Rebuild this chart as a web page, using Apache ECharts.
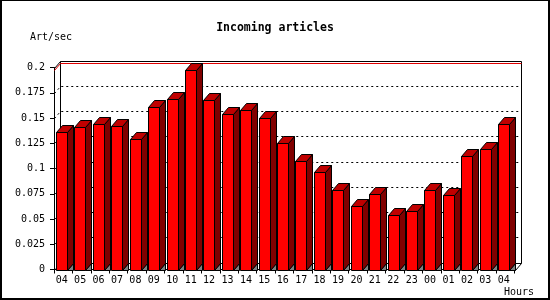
<!DOCTYPE html>
<html>
<head>
<meta charset="utf-8">
<script src="https://cdn.jsdelivr.net/npm/echarts@6/dist/echarts.min.js"></script>
<style>
html,body{margin:0;padding:0;background:#fff;}
#wrap{position:relative;width:550px;height:300px;}
#chart{width:550px;height:300px;}
#frame{position:absolute;left:0;top:0;width:550px;height:300px;box-sizing:border-box;border-style:solid;border-color:#000;border-width:1px 2px 2px 2px;pointer-events:none;}
</style>
</head>
<body>
<div id="wrap"><div id="chart"></div><div id="frame"></div></div>
<script>
const titleText = 'Incoming articles';
const yName = 'Art/sec';
const xName = 'Hours';
const hours = ['04','05','06','07','08','09','10','11','12','13','14','15','16','17','18','19','20','21','22','23','00','01','02','03','04'];
const artPerSec = [0.1358,0.1411,0.1438,0.1418,0.1289,0.1609,0.1688,0.1972,0.1678,0.1537,0.1576,0.1497,0.1250,0.1074,0.0962,0.0784,0.0626,0.0748,0.0537,0.0576,0.0784,0.0735,0.1124,0.1190,0.1441];
const yTicks = [0,0.025,0.05,0.075,0.1,0.125,0.15,0.175,0.2];

const DX = 6, DY = 7;
const FONT = '"DejaVu Sans Mono", "Liberation Mono", monospace';
const px = v => Math.round(v) + 0.5;
const maxVal = Math.max.apply(null, artPerSec);

function renderWall(params, api) {
  const cs = params.coordSys;
  const x0 = px(cs.x), x1 = px(cs.x + cs.width), yT = px(cs.y), yB = px(cs.y + cs.height);
  const ch = [];
  ch.push({type:'rect', shape:{x:x0+DX, y:yT-DY, width:x1-x0, height:yB-yT}, style:{fill:'#fff', stroke:'#000', lineWidth:1}});
  yTicks.forEach(t => {
    if (t <= 0 || t >= yTicks[yTicks.length-1]) return;
    const y = px(api.coord([0, t])[1]);
    ch.push({type:'polyline', shape:{points:[[x0,y],[x0+DX,y-DY],[x1+DX,y-DY]]}, style:{stroke:'#000', lineWidth:1, lineDash:[2,3], fill:null}});
  });
  const ym = px(api.coord([0, maxVal])[1]);
  ch.push({type:'polyline', shape:{points:[[x0,ym],[x0+DX,ym-DY],[x1+DX,ym-DY]]}, style:{stroke:'#e00000', lineWidth:1, fill:null}});
  ch.push({type:'line', shape:{x1:x0, y1:yT, x2:x0+DX, y2:yT-DY}, style:{stroke:'#000', lineWidth:1}});
  ch.push({type:'line', shape:{x1:x0, y1:yB, x2:x0+DX, y2:yB-DY}, style:{stroke:'#000', lineWidth:1}});
  ch.push({type:'line', shape:{x1:x1, y1:yB, x2:x1+DX, y2:yB-DY}, style:{stroke:'#000', lineWidth:1}});
  return {type:'group', children: ch};
}

function renderBar(params, api) {
  const i = api.value(0), v = api.value(1);
  const top = api.coord([i, v]);
  const base = api.coord([i, 0]);
  const L = px(top[0] - 7.2), R = L + 11;
  const yt = px(top[1]), yb = px(base[1]);
  const s = {stroke:'#000', lineWidth:1};
  return {type:'group', children:[
    {type:'polygon', shape:{points:[[R,yb],[R+DX,yb-DY],[R+DX,yb]]}, style:Object.assign({fill:'#808080'}, s)},
    {type:'polygon', shape:{points:[[R,yt],[R+DX,yt-DY],[R+DX,yb-DY],[R,yb]]}, style:Object.assign({fill:'#800000'}, s)},
    {type:'polygon', shape:{points:[[L,yt],[R,yt],[R+DX,yt-DY],[L+DX,yt-DY]]}, style:Object.assign({fill:'#c00000'}, s)},
    {type:'rect', shape:{x:L, y:yt, width:R-L, height:yb-yt}, style:Object.assign({fill:'#ff0000'}, s)}
  ]};
}

const chart = echarts.init(document.getElementById('chart'), null, {renderer:'canvas'});
chart.setOption({
  animation: false,
  backgroundColor: '#fff',
  title: {text: titleText, left: 'center', top: 17, textStyle: {fontFamily: FONT, fontWeight: 'bold', fontSize: 11.5, color: '#000'}},
  graphic: [
    {type:'text', left: 30, top: 32, style:{text: yName, font: '10px ' + FONT, fill:'#000'}},
    {type:'text', left: 504, top: 287, style:{text: xName, font: '10px ' + FONT, fill:'#000'}}
  ],
  grid: {left: 54, right: 35.5, top: 67.5, bottom: 30.5, containLabel: false},
  xAxis: {
    type: 'category', data: hours,
    axisLine: {lineStyle: {color: '#000', width: 1}},
    axisTick: {show: true, length: 4, lineStyle: {color: '#000'}},
    axisLabel: {interval: 0, margin: 6, color: '#000', fontFamily: FONT, fontSize: 10, padding: [0, 3, 0, 0]},
    splitLine: {show: false}
  },
  yAxis: {
    type: 'value', min: 0, max: 0.2, interval: 0.025,
    axisLine: {show: true, lineStyle: {color: '#000', width: 1}},
    axisTick: {show: true, length: 4, lineStyle: {color: '#000'}},
    axisLabel: {margin: 9, color: '#000', fontFamily: FONT, fontSize: 10, formatter: v => String(+v.toFixed(3))},
    splitLine: {show: false}
  },
  series: [
    {type: 'custom', name: 'wall', z: 1, clip: false, silent: true, data: [[0, 0]], renderItem: renderWall},
    {type: 'custom', name: yName, z: 3, clip: false, data: artPerSec.map((v, i) => [i, v]), encode: {x: 0, y: 1}, renderItem: renderBar}
  ]
});
</script>
</body>
</html>
